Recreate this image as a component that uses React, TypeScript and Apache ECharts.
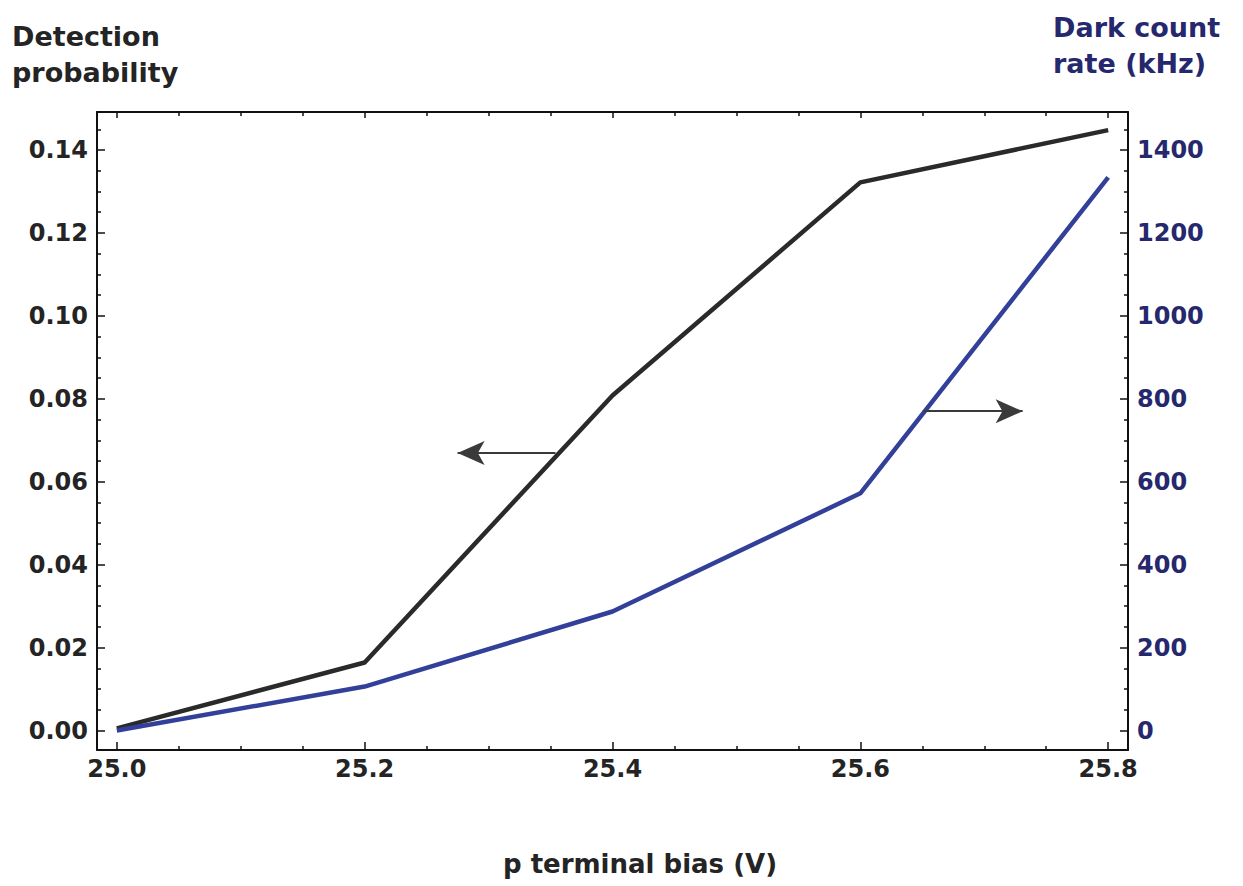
import React, { useEffect, useRef } from "react";
import * as echarts from "echarts";

const biasV = [25.0, 25.2, 25.4, 25.6, 25.8];
const detectionProb = [0.0005, 0.0164, 0.0808, 0.1322, 0.1448];
const darkCountKHz = [0, 106, 287, 572, 1334];

const xMajorTicks = [25.0, 25.2, 25.4, 25.6, 25.8];
const xMinorTicks = [25.05, 25.1, 25.15, 25.25, 25.3, 25.35, 25.45, 25.5, 25.55, 25.65, 25.7, 25.75];
const yLeftMajorTicks = [0, 0.02, 0.04, 0.06, 0.08, 0.1, 0.12, 0.14];
const yLeftMinorTicks = [0.005, 0.01, 0.015, 0.025, 0.03, 0.035, 0.045, 0.05, 0.055, 0.065, 0.07, 0.075, 0.085, 0.09, 0.095, 0.105, 0.11, 0.115, 0.125, 0.13, 0.135, 0.145];
const yRightMajorTicks = [0, 200, 400, 600, 800, 1000, 1200, 1400];
const yRightMinorTicks = [50, 100, 150, 250, 300, 350, 450, 500, 550, 650, 700, 750, 850, 900, 950, 1050, 1100, 1150, 1250, 1300, 1350, 1450];

// arrow annotations (data coordinates)
const leftArrow = { from: [25.354, 0.0669], to: [25.275, 0.0669] };
const rightArrow = { from: [25.651, 770], to: [25.731, 770] };

const X_MIN = 24.984;
const X_MAX = 25.816;
const YL_MIN = -0.0047;
const YL_MAX = 0.14917;
const YR_MIN = -47;
const YR_MAX = 1491.7;

const FONT = "DejaVu Sans";
const DARK = "#242424";
const NAVY = "#26286e";

export default function App() {
  const ref = useRef<HTMLDivElement>(null);
  useEffect(() => {
    if (!ref.current) return;
    const chart = echarts.init(ref.current, undefined, { renderer: "svg" });
    const axLine = { show: true, onZero: false, lineStyle: { color: "#111", width: 2 } };
    const noLine = { show: false, onZero: false };
    const xBase = { type: "value", min: X_MIN, max: X_MAX, splitLine: { show: false } };
    const ylBase = { type: "value", min: YL_MIN, max: YL_MAX, splitLine: { show: false } };
    const yrBase = { type: "value", min: YR_MIN, max: YR_MAX, splitLine: { show: false } };
    const tick = (vals: number[], len: number) => ({
      show: true,
      inside: true,
      length: len,
      customValues: vals,
      lineStyle: { color: "#111", width: 1.5 },
    });
    const option: any = {
      animation: false,
      backgroundColor: "#ffffff",
      grid: { left: 97, top: 112, width: 1031, height: 638, containLabel: false },
      xAxis: [
        {
          ...xBase,
          position: "bottom",
          axisLine: axLine,
          axisTick: tick(xMajorTicks, 8),
          axisLabel: {
            show: true,
            customValues: xMajorTicks,
            margin: 7,
            color: DARK,
            fontFamily: FONT,
            fontWeight: "bold",
            fontSize: 24,
            formatter: (v: number) => v.toFixed(1),
          },
        },
        { ...xBase, position: "bottom", axisLine: noLine, axisTick: tick(xMinorTicks, 4), axisLabel: { show: false } },
        { ...xBase, position: "top", axisLine: axLine, axisTick: tick(xMajorTicks, 6), axisLabel: { show: false } },
        { ...xBase, position: "top", axisLine: noLine, axisTick: tick(xMinorTicks, 4), axisLabel: { show: false } },
      ],
      yAxis: [
        {
          ...ylBase,
          position: "left",
          axisLine: axLine,
          axisTick: tick(yLeftMajorTicks, 8),
          axisLabel: {
            show: true,
            customValues: yLeftMajorTicks,
            margin: 9,
            color: DARK,
            fontFamily: FONT,
            fontWeight: "bold",
            fontSize: 24,
            formatter: (v: number) => v.toFixed(2),
          },
        },
        { ...ylBase, position: "left", axisLine: noLine, axisTick: tick(yLeftMinorTicks, 4), axisLabel: { show: false } },
        {
          ...yrBase,
          position: "right",
          axisLine: axLine,
          axisTick: tick(yRightMajorTicks, 8),
          axisLabel: {
            show: true,
            customValues: yRightMajorTicks,
            margin: 9,
            color: NAVY,
            fontFamily: FONT,
            fontWeight: "bold",
            fontSize: 24,
            formatter: (v: number) => String(Math.round(v)),
          },
        },
        { ...yrBase, position: "right", axisLine: noLine, axisTick: tick(yRightMinorTicks, 4), axisLabel: { show: false } },
      ],
      series: [
        {
          name: "Detection probability",
          type: "line",
          xAxisIndex: 0,
          yAxisIndex: 0,
          data: biasV.map((x, i) => [x, detectionProb[i]]),
          symbol: "none",
          lineStyle: { color: "#2a2a2a", width: 4.5 },
          markLine: {
            silent: true,
            symbol: ["none", "arrow"],
            symbolSize: [18, 27],
            label: { show: false },
            lineStyle: { color: "#3a3a3a", width: 2, type: "solid" },
            itemStyle: { color: "#3a3a3a" },
            data: [[{ coord: leftArrow.from }, { coord: leftArrow.to }]],
          },
        },
        {
          name: "Dark count rate",
          type: "line",
          xAxisIndex: 0,
          yAxisIndex: 2,
          data: biasV.map((x, i) => [x, darkCountKHz[i]]),
          symbol: "none",
          lineStyle: { color: "#33409a", width: 4.5 },
          markLine: {
            silent: true,
            symbol: ["none", "arrow"],
            symbolSize: [18, 27],
            label: { show: false },
            lineStyle: { color: "#3a3a3a", width: 2, type: "solid" },
            itemStyle: { color: "#3a3a3a" },
            data: [[{ coord: rightArrow.from }, { coord: rightArrow.to }]],
          },
        },
      ],
      graphic: [
        {
          type: "text",
          left: 12,
          top: 18,
          style: {
            text: "Detection\nprobability",
            font: `bold 27px "${FONT}"`,
            lineHeight: 36,
            fill: DARK,
          },
        },
        {
          type: "text",
          left: 1053,
          top: 9,
          style: {
            text: "Dark count\nrate (kHz)",
            font: `bold 27px "${FONT}"`,
            lineHeight: 36,
            fill: NAVY,
          },
        },
        {
          type: "text",
          x: 640,
          y: 864,
          style: {
            text: "p terminal bias (V)",
            font: `bold 26px "${FONT}"`,
            fill: DARK,
            align: "center",
            verticalAlign: "middle",
          },
        },
      ],
    };
    chart.setOption(option);
    return () => chart.dispose();
  }, []);
  return (
    <div
      ref={ref}
      style={{ position: "fixed", left: 0, top: 0, width: 1243, height: 886, background: "#fff" }}
    />
  );
}
